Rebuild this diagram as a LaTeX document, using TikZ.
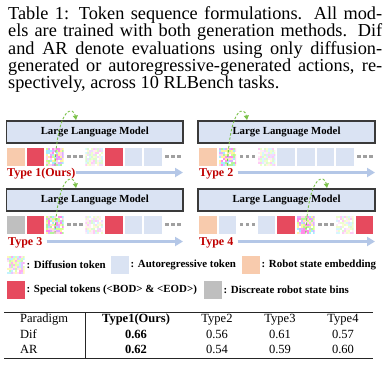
\documentclass[tikz,border=0pt]{standalone}
\usepackage{fontspec}
\setmainfont{Liberation Serif}
\usetikzlibrary{arrows.meta}
\definecolor{llmfill}{HTML}{DAE3F3}
\definecolor{llmborder}{HTML}{3A3A3A}
\definecolor{arblue}{HTML}{DAE3F3}
\definecolor{peach}{HTML}{F8CBAD}
\definecolor{spred}{HTML}{E64A5E}
\definecolor{bingray}{HTML}{BFBFBF}
\definecolor{dotgray}{HTML}{A0A0A0}
\definecolor{arrowblue}{HTML}{B4C7E7}
\definecolor{ggreen}{HTML}{7CC24A}
\definecolor{typered}{HTML}{C00000}
\definecolor{dpa}{HTML}{FFF3A0}
\definecolor{dpb}{HTML}{FF8CEB}
\definecolor{dpc}{HTML}{B4F59A}
\definecolor{dpd}{HTML}{A6ECFF}
\definecolor{dpe}{HTML}{FFFFFF}
\definecolor{dpf}{HTML}{DDB0FF}
\definecolor{dpg}{HTML}{FFD2EC}
\definecolor{dph}{HTML}{D8FF90}
\pgfmathdeclarerandomlist{dpal}{{dpa}{dpb}{dpc}{dpd}{dpe}{dpf}{dpg}{dph}}
\newcommand{\tokdots}[2]{\foreach \k in {0,1,2} \fill[dotgray] ({#1+1.5+6*\k},{#2-1.75}) rectangle ++(3.5,3.5);}
\begin{document}
\begin{tikzpicture}[x=1pt,y=-1pt,
  captxt/.style={anchor=base west, inner sep=0pt, font=\fontsize{18.3}{20}\selectfont},
  llmbox/.style={draw=llmborder, fill=llmfill, line width=1.2pt, minimum height=22pt, inner sep=0pt,
    font=\bfseries\fontsize{10.8}{12}\selectfont},
  tkbase/.style={anchor=north west, minimum width=17.5pt, minimum height=18pt, inner sep=0pt, outer sep=0pt},
  tkar/.style={tkbase, fill=arblue},
  tkpe/.style={tkbase, fill=peach},
  tksp/.style={tkbase, fill=spred},
  tkgr/.style={tkbase, fill=bingray},
  tkdif/.style={tkbase, path picture={
      \foreach \i in {0,...,8}{\foreach \j in {0,...,8}{
        \pgfmathrandomitem{\dcol}{dpal}
        \fill[\dcol!#1!white] ([xshift={2pt*\i}, yshift={-2pt*\j}]path picture bounding box.north west) rectangle ++(2pt,-2pt);
      }}}},
  tkdif/.default=100,
  typelab/.style={anchor=base west, inner sep=0pt, text=typered, font=\bfseries\fontsize{12}{14}\selectfont},
  typearrow/.style={draw=arrowblue, line width=2.6pt, -{Triangle[length=8pt,width=9pt]}},
  garrow/.style={draw=ggreen, line width=0.9pt, dash pattern=on 2.5pt off 1.8pt, -{Triangle[length=4.5pt,width=5pt]}},
  legtxt/.style={anchor=west, inner sep=0pt, font=\bfseries\fontsize{10.9}{12}\selectfont},
  tabtxt/.style={anchor=base, inner sep=0pt, font=\fontsize{12.5}{14}\selectfont},
]
\pgfmathsetseed{11}
\useasboundingbox (0,0) rectangle (386,368);
\fill[white] (0,0) rectangle (386,368);

% caption
\node[captxt] (c1) at (8,19.5) {\makebox[374pt][s]{Table 1: Token sequence formulations. All mod-}};
\node[captxt] (c2) at (8,36.8) {\makebox[374pt][s]{els are trained with both generation methods. Dif}};
\node[captxt] (c3) at (8,54.1) {\makebox[374pt][s]{and AR denote evaluations using only diffusion-}};
\node[captxt] (c4) at (8,71.4) {\makebox[374pt][s]{generated or autoregressive-generated actions, re-}};
\node[captxt] (c5) at (8,88.7) {spectively, across 10 RLBench tasks.};

% ---------- panel 1 ----------
\node[tkpe] (p1a) at (7,147.5) {};
\node[tksp] (p1b) at (26.6,147.5) {};
\node[tkdif] (p1c) at (46.2,147.5) {};
\tokdots{65.8}{156.5}
\node[tkdif=45] (p1e) at (85.4,147.5) {};
\node[tksp] (p1f) at (105,147.5) {};
\node[tkar] (p1g) at (124.6,147.5) {};
\node[tkar] (p1h) at (144.2,147.5) {};
\tokdots{163.8}{156.5}
\node[llmbox, minimum width=176.5pt] (L1) at (94.75,132) {Large Language Model};
\coordinate (g1) at (76,120);
\draw[garrow] (p1c.south) .. controls +(3,-62) and +(-2,-13) .. (g1);
\node[typelab] (t1) at (7,176) {Type 1(Ours)};
\coordinate (t1e) at (183,172.5);
\draw[typearrow] (t1.east |- t1e) -- (t1e);

% ---------- panel 2 ----------
\node[tkpe] (p2a) at (199,147.5) {};
\node[tkdif] (p2b) at (218.6,147.5) {};
\tokdots{238.2}{156.5}
\node[tkdif=45] (p2d) at (257.8,147.5) {};
\node[tkar] (p2e) at (277.4,147.5) {};
\node[tkar] (p2f) at (297,147.5) {};
\node[tkar] (p2g) at (316.6,147.5) {};
\node[tkar] (p2h) at (336.2,147.5) {};
\tokdots{355.8}{156.5}
\node[llmbox, minimum width=177pt] (L2) at (286.5,132) {Large Language Model};
\coordinate (g2) at (247,120);
\draw[garrow] (p2b.south) .. controls +(3,-62) and +(-2,-13) .. (g2);
\node[typelab] (t2) at (199,176) {Type 2};
\coordinate (t2e) at (375,172.5);
\draw[typearrow] ([xshift=4pt]t2.east |- t2e) -- (t2e);

% ---------- panel 3 ----------
\node[tkgr] (p3a) at (7,215.5) {};
\node[tksp] (p3b) at (26.6,215.5) {};
\node[tkdif] (p3c) at (46.2,215.5) {};
\tokdots{65.8}{224.5}
\node[tkdif=45] (p3e) at (85.4,215.5) {};
\node[tksp] (p3f) at (105,215.5) {};
\node[tkar] (p3g) at (124.6,215.5) {};
\node[tkar] (p3h) at (144.2,215.5) {};
\tokdots{163.8}{224.5}
\node[llmbox, minimum width=176.5pt] (L3) at (94.75,200) {Large Language Model};
\coordinate (g3) at (76,188);
\draw[garrow] (p3c.south) .. controls +(3,-62) and +(-2,-13) .. (g3);
\node[typelab] (t3) at (8,245) {Type 3};
\coordinate (t3e) at (183,241.5);
\draw[typearrow] ([xshift=4pt]t3.east |- t3e) -- (t3e);

% ---------- panel 4 ----------
\node[tkpe] (p4a) at (199,215.5) {};
\node[tkar] (p4b) at (218.6,215.5) {};
\tokdots{238.2}{224.5}
\node[tkar] (p4d) at (257.8,215.5) {};
\node[tksp] (p4e) at (277.4,215.5) {};
\node[tkdif] (p4f) at (297,215.5) {};
\tokdots{316.6}{224.5}
\node[tkdif=45] (p4h) at (336.2,215.5) {};
\node[tksp] (p4i) at (355.8,215.5) {};
\node[llmbox, minimum width=177pt] (L4) at (286.5,200) {Large Language Model};
\coordinate (g4) at (327,188);
\draw[garrow] (p4f.south) .. controls +(3,-62) and +(-2,-13) .. (g4);
\node[typelab] (t4) at (199,245) {Type 4};
\coordinate (t4e) at (375,241.5);
\draw[typearrow] ([xshift=4pt]t4.east |- t4e) -- (t4e);

% ---------- legend ----------
\node[tkdif=70] (k1) at (7,256) {};
\node[legtxt] (k1t) at ([xshift=2pt]k1.east) {: Diffusion token};
\node[tkar] (k2) at (111,256) {};
\node[legtxt] (k2t) at ([xshift=2pt]k2.east) {: Autoregressive token};
\node[tkpe] (k3) at (242,256) {};
\node[legtxt] (k3t) at ([xshift=2pt]k3.east) {: Robot state embedding};
\node[tksp] (k4) at (7,281) {};
\node[legtxt] (k4t) at ([xshift=2pt]k4.east) {: Special tokens (<BOD> \& <EOD>)};
\node[tkgr] (k5) at (204,281) {};
\node[legtxt] (k5t) at ([xshift=2pt]k5.east) {: Discreate robot state bins};

% ---------- table ----------
\draw[line width=0.9pt, black!85] (4,312) -- (373,312);
\draw[line width=0.9pt, black!85] (4,358) -- (373,358);
\draw[line width=0.7pt, black!85] (85,312) -- (85,358);
\node[tabtxt, anchor=base west] (h0) at (20,322.5) {Paradigm};
\node[tabtxt] (h1) at (136,322.5) {\bfseries Type1(Ours)};
\node[tabtxt] (h2) at (217,322.5) {Type2};
\node[tabtxt] (h3) at (280,322.5) {Type3};
\node[tabtxt] (h4) at (343,322.5) {Type4};
\node[tabtxt, anchor=base west] (r1) at (20,338) {Dif};
\node[tabtxt] (r11) at (136,338) {\bfseries 0.66};
\node[tabtxt] (r12) at (217,338) {0.56};
\node[tabtxt] (r13) at (280,338) {0.61};
\node[tabtxt] (r14) at (343,338) {0.57};
\node[tabtxt, anchor=base west] (r2) at (20,353.5) {AR};
\node[tabtxt] (r21) at (136,353.5) {\bfseries 0.62};
\node[tabtxt] (r22) at (217,353.5) {0.54};
\node[tabtxt] (r23) at (280,353.5) {0.59};
\node[tabtxt] (r24) at (343,353.5) {0.60};
\end{tikzpicture}
\end{document}
